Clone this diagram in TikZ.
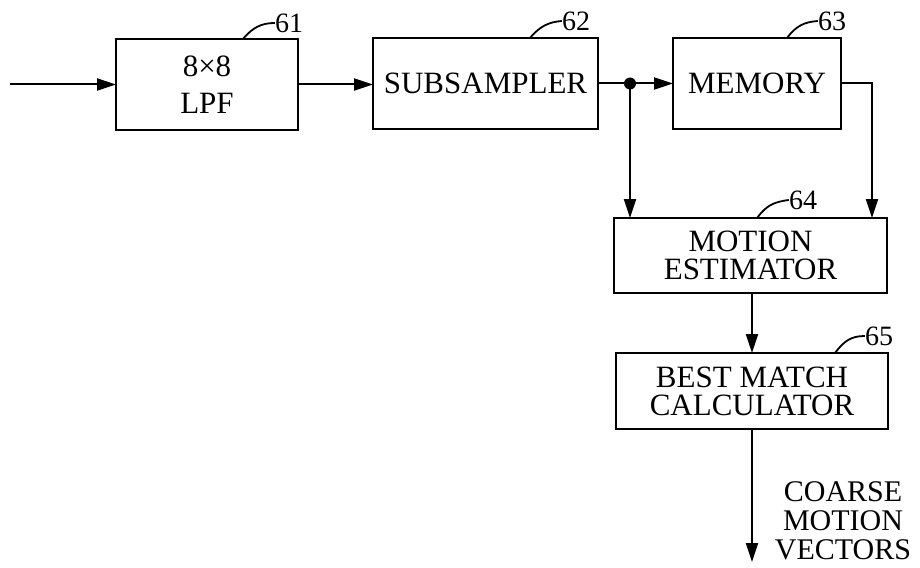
\documentclass[tikz,border=0pt]{standalone}
\usepackage{fontspec}
\setmainfont{Liberation Serif}
\usetikzlibrary{arrows.meta}
\tikzset{
  blk/.style={draw, line width=2pt, inner sep=0pt, outer sep=0pt, align=center,
              font=\fontsize{31}{28}\selectfont},
  arr/.style={line width=2pt, -{Triangle[length=19pt,width=12pt]}},
  wire/.style={line width=2pt},
  lead/.style={line width=1.8pt},
  num/.style={inner sep=0pt, font=\fontsize{28}{28}\selectfont},
  jdot/.style={circle, fill, inner sep=0pt, minimum size=12pt},
  outtxt/.style={inner sep=0pt, align=center, font=\fontsize{30}{29}\selectfont}
}
\begin{document}
\begin{tikzpicture}[x=1pt,y=-1pt]
\useasboundingbox (0,0) rectangle (920,567);
% blocks
\node[blk, minimum width=182pt, minimum height=91pt, font=\fontsize{31}{37}\selectfont] (lpf) at (207,84.5) {8×8\\LPF};
\node[blk, minimum width=225pt, minimum height=91pt] (sub) at (485.5,83.5) {SUBSAMPLER};
\node[blk, minimum width=168pt, minimum height=91pt] (mem) at (757,83.5) {MEMORY};
\node[blk, minimum width=273pt, minimum height=75pt] (me) at (750.5,255.5) {MOTION\\ESTIMATOR};
\node[blk, minimum width=272pt, minimum height=76pt] (bmc) at (752,391) {BEST MATCH\\CALCULATOR};
% reference numbers
\node[num] (n61) at (289,23) {61};
\node[num] (n62) at (576,21) {62};
\node[num] (n63) at (832,21) {63};
\node[num] (n64) at (803,200) {64};
\node[num] (n65) at (879,336) {65};
\draw[lead] (243,39) .. controls (253,27) and (262,23) .. (n61.west);
\draw[lead] (530,38) .. controls (540,26) and (549,22) .. (n62.west);
\draw[lead] (787,38) .. controls (796,26) and (804,22) .. (n63.west);
\draw[lead] (757,218) .. controls (766,206) and (773,202) .. (n64.west);
\draw[lead] (835,353) .. controls (844,341) and (851,336) .. (n65.west);
% connectors
\coordinate (in) at (10,84.5);
\node[jdot] (j) at (630,83.5) {};
\coordinate (mr) at (872,218);
\coordinate (out) at (752,562);
\draw[arr] (in) -- (lpf.west);
\draw[arr] (lpf.east) -- (lpf.east -| sub.west);
\draw[wire] (sub.east) -- (j.center);
\draw[arr] (j.center) -- (mem.west);
\draw[arr] (j.center) -- (j |- me.north);
\draw[arr] (mem.east) -| (mr);
\draw[arr] (bmc.north |- me.south) -- (bmc.north);
\draw[arr] (bmc.south) -- (out);
\node[outtxt] (cmv) at (843,521) {COARSE\\MOTION\\VECTORS};
\end{tikzpicture}
\end{document}
